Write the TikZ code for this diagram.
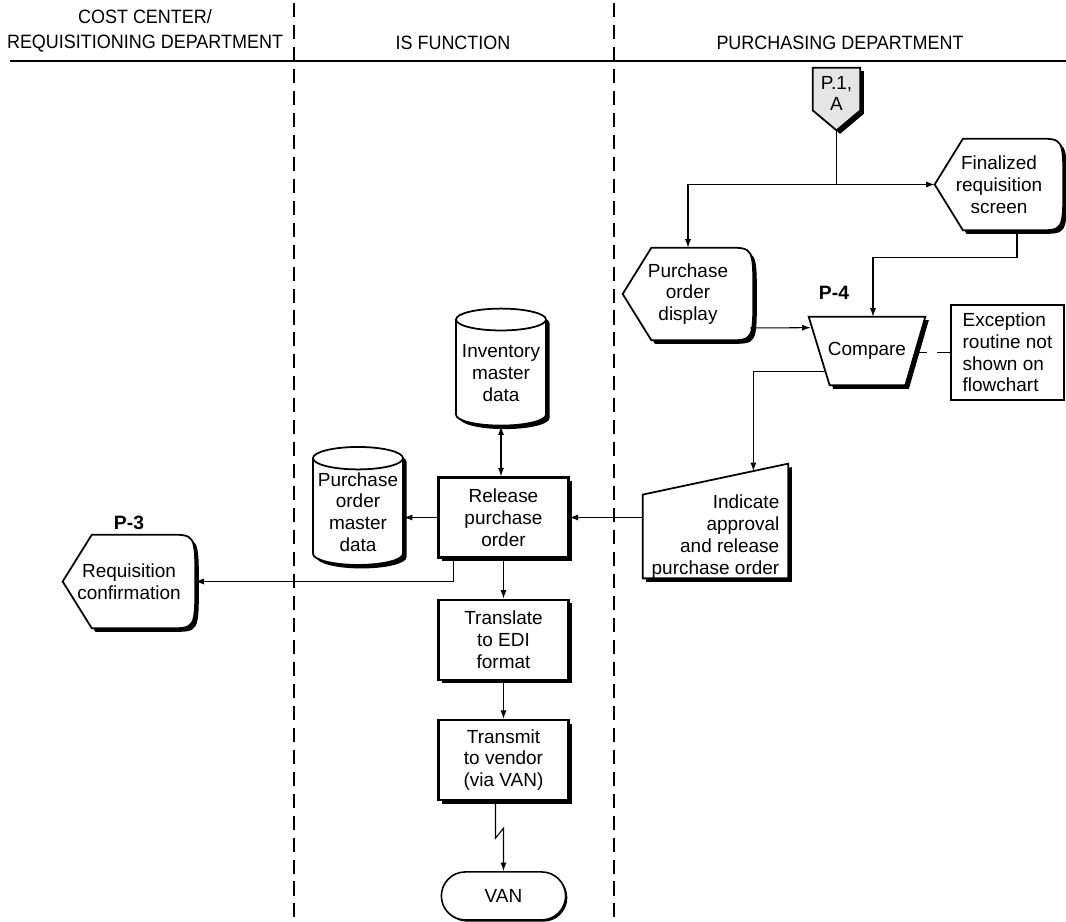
\documentclass[tikz,border=0pt]{standalone}
\usepackage{fontspec}
\setmainfont{Liberation Sans}
\newfontfamily\headfont[FakeStretch=0.93]{Liberation Sans}
\usetikzlibrary{positioning, arrows.meta, calc, shapes.geometric, shapes.misc, shadows, backgrounds}

\begin{document}
\begin{tikzpicture}[
x=0.02cm, y=-0.02cm,
font=\fontsize{10.8}{12.4}\selectfont,
dropped/.style={drop shadow={shadow xshift=2pt, shadow yshift=-2pt, fill=black, opacity=1}},
lanehead/.style={font=\headfont\fontsize{11}{14}\selectfont, align=center},
lane/.style={line width=1.1pt, dash pattern=on 8pt off 4.5pt},
ptag/.style={font=\bfseries\fontsize{11}{13}\selectfont},
proc/.style={rectangle, draw, line width=1.3pt, fill=white, dropped, align=center, inner sep=0pt, minimum width=2.6cm, minimum height=1.6cm},
store/.style={cylinder, shape border rotate=90, aspect=0.28, draw, line width=1pt, fill=white, dropped, align=center, inner sep=0pt, minimum width=1.8cm},
textonly/.style={inner sep=0pt, align=center},
outline/.style={draw, line width=1pt, fill=white, dropped},
arr/.style={-{Latex[length=4.8pt, width=3.4pt]}, line width=0.6pt},
dbl/.style={{Latex[length=4.8pt, width=3.4pt]}-{Latex[length=4.8pt, width=3.4pt]}, line width=0.6pt},
link/.style={line width=0.6pt}
]
\useasboundingbox (0,0) rectangle (1066,922);

% swimlane headings
\node[lanehead] (hcost) at (145,31) {COST CENTER/\\REQUISITIONING DEPARTMENT};
\node[lanehead] (his) at (453,43) {IS FUNCTION};
\node[lanehead] (hpur) at (840,43) {PURCHASING DEPARTMENT};
\draw[line width=1.6pt] (10,61) -- (1066,61);
\draw[lane] (294,3) -- (294,922);
\draw[lane] (614,3) -- (614,922);

% purchasing department
\node[textonly, minimum width=0.94cm, minimum height=1.02cm] (pa) at (836.5,93.5) {P.1,\\A};
\coordinate (pa tip) at ($(pa.south)+(0,11)$);
\node[textonly, minimum width=2.56cm, minimum height=1.82cm] (fin) at (999,184.5) {Finalized\\requisition\\screen};
\node[textonly, minimum width=2.6cm, minimum height=1.84cm] (pod) at (688,294) {Purchase\\order\\display};
\node[textonly, minimum width=2.32cm, minimum height=1.36cm] (cmp) at (867,351) {Compare};
\node[ptag] (p4) at (834,293) {P-4};
\node[draw, line width=1.4pt, align=left, inner sep=0pt, minimum width=2.26cm, minimum height=1.9cm] (exc) at (1007.5,352.5) {Exception\\routine not\\shown on\\flowchart};
\node[textonly, align=right, minimum width=2.9cm, minimum height=1.66cm] (ind) at (715.5,536.5) {Indicate\\approval\\and release\\purchase order};
\coordinate (ind top) at ($(ind.north east)+(0,-31)$);

% IS function
\node[proc] (rel) at (503.5,517.5) {Release\\purchase\\order};
\node[store, minimum height=2.34cm] (inv) at (501,373) {Inventory\\master\\data};
\node[store, minimum height=2.36cm] (pom) at (358,512) {Purchase\\order\\master\\data};
\node[proc, below=0.8cm of rel] (trn) {Translate\\to EDI\\format};
\node[proc, below=0.76cm of trn] (tvn) {Transmit\\to vendor\\(via VAN)};
\node[rounded rectangle, draw, line width=0.9pt, fill=white, drop shadow={shadow xshift=1pt, shadow yshift=-1pt, fill=black, opacity=1}, minimum width=2.72cm, minimum height=0.96cm, below=1.4cm of tvn] (van) {VAN};

% cost center
\node[textonly, minimum width=2.64cm, minimum height=1.86cm] (req) at (129,581.5) {Requisition\\confirmation};
\node[ptag] (p3) at (129,523) {P-3};

% symbol outlines behind the texts
\begin{scope}[on background layer]
\draw[outline, fill=black!10] (pa.north west) -- (pa.north east) -- ($(pa.south east)+(0,-9)$) -- (pa tip) -- ($(pa.south west)+(0,-9)$) -- cycle;
\foreach \n in {fin,pod,req}
  \draw[outline] (\n.west) -- ($(\n.north west)!0.22!(\n.north east)$) -- ($(\n.north west)!0.8!(\n.north east)$) .. controls (\n.north east) .. (\n.east) .. controls (\n.south east) .. ($(\n.south west)!0.8!(\n.south east)$) -- ($(\n.south west)!0.22!(\n.south east)$) -- cycle;
\draw[outline] (cmp.north west) -- (cmp.north east) -- ($(cmp.south east)+(-20,0)$) -- ($(cmp.south west)+(21,0)$) -- cycle;
\draw[outline] (ind.south west) -- (ind.north west) -- (ind top) -- (ind.south east) -- cycle;
\end{scope}

% connectors
\draw[link] (pa tip) -- (pa tip |- fin.west);
\draw[arr] (pa tip |- fin.west) -- (fin.west);
\draw[arr] (pa tip |- fin.west) -| (pod.north);
\draw[arr] ($(fin.south)+(18,0)$) -- ++(0,27) -| ($(cmp.north)+(6,0)$);
\draw[arr] ($(pod.east)+(-3,34)$) -- ($(cmp.north west)+(2,11)$);
\draw[link, dash pattern=on 7.4pt off 5.7pt] (exc.west) -- ($(exc.west -| cmp.east)+(-6,0)$);
\draw[arr] ($(cmp.south west)+(16,-14)$) -| ($(ind.north west)!0.76!(ind top)$);
\draw[arr] (ind.west |- rel.east) -- (rel.east);
\draw[dbl] (inv.south) -- (inv.south |- rel.north);
\draw[arr] (rel.west) -- (pom.east |- rel.west);
\draw[arr] ($(rel.south west)+(16,0)$) |- (req.east);
\draw[arr] (rel.south) -- (trn.north);
\draw[arr] (trn.south) -- (tvn.north);
\draw[arr] ($(tvn.south)+(-8,0)$) -- ++(0,37) -- ++(8,-10) -- (van.north);
\end{tikzpicture}
\end{document}
